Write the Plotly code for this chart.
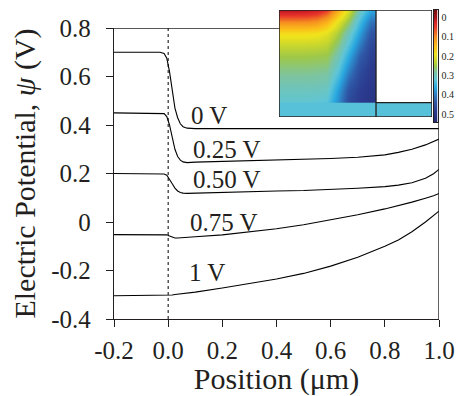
import plotly.graph_objects as go

# ---------------- data ----------------
x_pos = [-0.2, -0.03, -0.015, -0.005, 0.005, 0.015, 0.025, 0.035, 0.045, 0.055, 0.07,
         0.1, 0.2, 0.3, 0.4, 0.5, 0.6, 0.7, 0.8, 0.85, 0.9, 0.95, 0.98, 1.0]

psi_0V = [0.70, 0.70, 0.695, 0.675, 0.62, 0.54, 0.47, 0.43, 0.405, 0.393, 0.387,
          0.385, 0.385, 0.385, 0.385, 0.385, 0.385, 0.385, 0.385, 0.385, 0.385, 0.385, 0.385, 0.385]
psi_025V = [0.45, 0.45, 0.447, 0.435, 0.40, 0.35, 0.30, 0.27, 0.255, 0.248, 0.245,
            0.247, 0.250, 0.252, 0.255, 0.258, 0.262, 0.267, 0.277, 0.287, 0.300, 0.318, 0.331, 0.342]
psi_050V = [0.20, 0.20, 0.198, 0.193, 0.178, 0.158, 0.140, 0.128, 0.122, 0.119, 0.118,
            0.119, 0.123, 0.126, 0.128, 0.130, 0.134, 0.139, 0.146, 0.152, 0.162, 0.180, 0.199, 0.217]
psi_075V = [-0.052, -0.052, -0.052, -0.053, -0.058, -0.063, -0.066, -0.066, -0.065, -0.064, -0.063,
            -0.061, -0.053, -0.042, -0.028, -0.011, 0.008, 0.030, 0.054, 0.067, 0.082, 0.098, 0.108, 0.118]
psi_1V = [-0.304, -0.304, -0.304, -0.304, -0.303, -0.301, -0.299, -0.298, -0.296, -0.295, -0.293,
          -0.289, -0.272, -0.255, -0.235, -0.212, -0.182, -0.145, -0.100, -0.074, -0.040, 0.000, 0.025, 0.045]

series = [psi_0V, psi_025V, psi_050V, psi_075V, psi_1V]
labels = ["0 V", "0.25 V", "0.50 V", "0.75 V", "1 V"]
label_x = [0.151, 0.216, 0.216, 0.206, 0.145]
label_y = [0.441, 0.301, 0.175, -0.002, -0.210]

x_ticks = [-0.2, 0.0, 0.2, 0.4, 0.6, 0.8, 1.0]
x_ticktext = ["-0.2", "0.0", "0.2", "0.4", "0.6", "0.8", "1.0"]
y_ticks = [-0.4, -0.2, 0, 0.2, 0.4, 0.6, 0.8]
y_ticktext = ["-0.4", "-0.2", "0", "0.2", "0.4", "0.6", "0.8"]

# inset: potential map (rows top -> bottom, columns left -> right), volts
inset_u = [0.056, 0.167, 0.278, 0.389, 0.5, 0.611, 0.722, 0.833, 0.944]
inset_v = [0.0, 0.125, 0.25, 0.375, 0.5, 0.625, 0.75, 0.875, 1.0]
inset_psi = [
    [0.005, 0.005, 0.010, 0.020, 0.050, 0.130, 0.210, 0.300, 0.360],
    [0.100, 0.100, 0.100, 0.110, 0.140, 0.200, 0.260, 0.340, 0.410],
    [0.180, 0.180, 0.180, 0.185, 0.200, 0.240, 0.300, 0.370, 0.440],
    [0.222, 0.222, 0.222, 0.224, 0.230, 0.268, 0.330, 0.400, 0.460],
    [0.248, 0.248, 0.248, 0.250, 0.252, 0.292, 0.360, 0.430, 0.470],
    [0.268, 0.268, 0.268, 0.270, 0.272, 0.317, 0.390, 0.450, 0.480],
    [0.285, 0.285, 0.285, 0.287, 0.290, 0.345, 0.420, 0.465, 0.485],
    [0.302, 0.302, 0.302, 0.303, 0.307, 0.370, 0.445, 0.475, 0.490],
    [0.316, 0.316, 0.316, 0.320, 0.325, 0.385, 0.460, 0.480, 0.495],
]
strip_u_edges = [0.0, 1.577]
strip_v_edges = [1.0, 1.154]
strip_psi = [[0.325]]

cbar_vals = [0, 0.1, 0.2, 0.3, 0.4, 0.5]
cbar_text = ["0", "0.1", "0.2", "0.3", "0.4", "0.5"]

# ---------------- styling ----------------
FONT = "Liberation Serif"
FS = 25
W, H = 458, 396
ML, MR, MT, MB = 114, 19, 10, 77
PW = W - ML - MR
PH = H - MT - MB
cmin, cmax = -0.54, 0.037   # colour range in -psi units (0 V at top of bar)

def t_of(p):
    return (-p - cmin) / (cmax - cmin)

cs_stops = [(0.54, "#232870"), (0.48, "#2b3a8e"), (0.43, "#2f5ba9"), (0.39, "#2d86c8"),
            (0.36, "#29a9e1"), (0.32, "#5ec5d8"), (0.28, "#7cc4a2"), (0.25, "#9dc84a"),
            (0.225, "#c5d52f"), (0.19, "#f0e41c"), (0.15, "#fbbf1a"), (0.10, "#f58f1f"),
            (0.05, "#e8392a"), (0.02, "#d21f26"), (0.0, "#a3161b"), (-0.037, "#7a1012")]
colorscale = [[max(0.0, min(1.0, t_of(p))), c] for p, c in cs_stops]

axis_col = "#231f20"
fig = go.Figure()

for ys in series:
    fig.add_trace(go.Scatter(x=x_pos, y=ys, mode="lines",
                             line=dict(color="black", width=1.1),
                             xaxis="x", yaxis="y", showlegend=False, hoverinfo="skip"))

fig.add_trace(go.Heatmap(x=inset_u, y=inset_v, z=[[-p for p in row] for row in inset_psi],
                         zsmooth="best", coloraxis="coloraxis", xaxis="x2", yaxis="y2",
                         hoverinfo="skip"))
fig.add_trace(go.Heatmap(x=strip_u_edges, y=strip_v_edges, z=[[-p for p in row] for row in strip_psi],
                         coloraxis="coloraxis", xaxis="x2", yaxis="y2", hoverinfo="skip"))
# colour bar drawn as its own small heatmap
fig.add_trace(go.Heatmap(x=[0, 1], y=[cmin, cmax], z=[[cmin, cmin], [cmax, cmax]],
                         zsmooth="best", coloraxis="coloraxis", xaxis="x3", yaxis="y3",
                         hoverinfo="skip"))

for t, lx, ly in zip(labels, label_x, label_y):
    fig.add_annotation(x=lx, y=ly, xref="x", yref="y", text=t, showarrow=False,
                       font=dict(family=FONT, size=FS, color=axis_col))

ydom_top = (319 - 28) / PH

shapes = [
    dict(type="line", xref="x", yref="y", x0=0, x1=0, y0=-0.4, y1=0.8,
         line=dict(color="black", width=1, dash="dot")),
    dict(type="line", xref="x", yref="y", x0=-0.2, x1=0.41, y0=0.8, y1=0.8,
         line=dict(color=axis_col, width=1.4)),
    dict(type="line", xref="x", yref="y", x0=1.0, x1=1.0, y0=-0.4, y1=0.43,
         line=dict(color=axis_col, width=1.4)),
    dict(type="rect", xref="x2", yref="y2", x0=0, x1=1.577, y0=0, y1=1.154,
         line=dict(color=axis_col, width=1.5)),
    dict(type="line", xref="x2", yref="y2", x0=1.0, x1=1.0, y0=0, y1=1.154,
         line=dict(color=axis_col, width=1.3)),
    dict(type="line", xref="x2", yref="y2", x0=1.0, x1=1.577, y0=1.0, y1=1.0,
         line=dict(color=axis_col, width=1.3)),
]

fig.update_layout(
    width=W, height=H,
    margin=dict(l=ML, r=MR, t=MT, b=MB, pad=0, autoexpand=False),
    paper_bgcolor="white", plot_bgcolor="white",
    font=dict(family=FONT, size=FS, color=axis_col),
    showlegend=False,
    xaxis=dict(domain=[0, 1], range=[-0.2, 1.0], tickvals=x_ticks, ticktext=x_ticktext,
               ticks="outside", ticklen=7, tickwidth=1.4, tickcolor=axis_col,
               showline=True, linecolor=axis_col, linewidth=1.4, showgrid=False, zeroline=False,
               anchor="y", ticklabelstandoff=2,
               title=dict(text="Position (μm)", standoff=12),
               tickfont=dict(family=FONT, size=FS)),
    yaxis=dict(domain=[0, ydom_top], range=[-0.4, 0.8], tickvals=y_ticks, ticktext=y_ticktext,
               ticks="outside", ticklen=7, tickwidth=1.4, tickcolor=axis_col,
               showline=True, linecolor=axis_col, linewidth=1.4, showgrid=False, zeroline=False,
               anchor="x", ticklabelstandoff=10,
               title=dict(text="Electric Potential, <i>ψ</i> (V)", standoff=6),
               tickfont=dict(family=FONT, size=FS)),
    xaxis2=dict(domain=[(279 - ML) / PW, (432 - ML) / PW], range=[0, 1.577], anchor="y2",
                visible=False, fixedrange=True),
    yaxis2=dict(domain=[(319 - 117) / PH, 1.0], range=[1.154, 0], anchor="x2",
                visible=False, fixedrange=True),
    xaxis3=dict(domain=[(433.5 - ML) / PW, (437.5 - ML) / PW], range=[0, 1], anchor="y3",
                showticklabels=False, ticks="", showgrid=False, zeroline=False,
                showline=True, mirror=True, linecolor=axis_col, linewidth=1, fixedrange=True),
    yaxis3=dict(domain=[(319 - 122) / PH, 1.0], range=[cmin, cmax], anchor="x3", side="right",
                tickvals=[-v for v in cbar_vals], ticktext=cbar_text, ticks="",
                showgrid=False, zeroline=False, showline=True, mirror=True,
                linecolor=axis_col, linewidth=1, ticklabelstandoff=1, fixedrange=True,
                tickfont=dict(family=FONT, size=10, color=axis_col)),
    coloraxis=dict(cmin=cmin, cmax=cmax, colorscale=colorscale, showscale=False),
    shapes=shapes,
)

fig.write_html("out.html")
